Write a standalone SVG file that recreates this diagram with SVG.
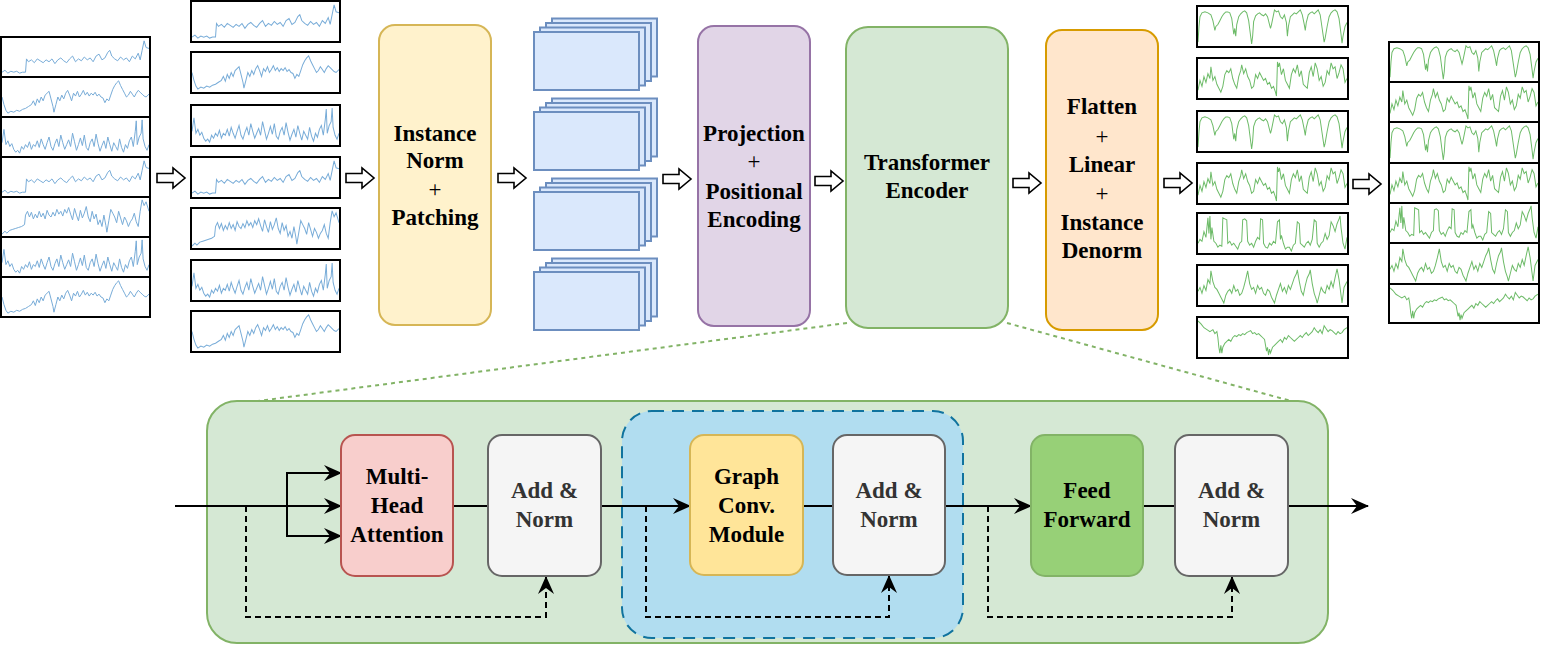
<svg xmlns="http://www.w3.org/2000/svg" xmlns:xlink="http://www.w3.org/1999/xlink" width="1542" height="653" viewBox="0 0 1542 653">
<style>
.ts{fill:#fff;stroke:#000;stroke-width:2}
.bl{fill:none;stroke:#78acd8;stroke-width:1;vector-effect:non-scaling-stroke}
.gl{fill:none;stroke:#6dbb68;stroke-width:1;vector-effect:non-scaling-stroke}
.patch{fill:#dae8fc;stroke:#6c8ebf;stroke-width:2}
.lbl{font-family:"Liberation Serif","Times New Roman",serif;font-weight:bold;font-size:23px;text-anchor:middle;fill:#000}
.plus{font-family:"Liberation Serif","Times New Roman",serif;font-weight:normal;font-size:23px;text-anchor:middle;fill:#000}
.grey{fill:#333}
.harrow{fill:#fff;stroke:#000;stroke-width:1.6;stroke-linejoin:miter}
.main{fill:none;stroke:#000;stroke-width:2}
.res{fill:none;stroke:#000;stroke-width:2;stroke-dasharray:6 4}
.zoom{fill:none;stroke:#82b366;stroke-width:2;stroke-dasharray:4 4}
</style>
<defs>
<marker id="ah" markerUnits="userSpaceOnUse" viewBox="0 0 18 16" markerWidth="18" markerHeight="16" refX="17" refY="8" orient="auto">
<path d="M0,0 L18,8 L0,16 L6,8 Z" fill="#000"/>
</marker>
<path id="ha" class="harrow" d="M0,-4.5 L16,-4.5 L16,-10 L28,0 L16,10 L16,4.5 L0,4.5 Z"/>
<symbol id="A" viewBox="0 0 150 40" preserveAspectRatio="none"><path class="bl" d="M0,36 L3,34 6,37 9,35 12,36 15,35 18,37 21,36 24,36 25,22 27,25 30,23 33,26 36,22 39,24 42,26 45,23 48,25 51,22 54,27 57,23 60,21 63,24 66,26 69,22 72,19 75,25 78,22 81,24 84,20 87,23 90,21 93,25 96,19 99,17 102,23 105,21 108,15 110,13 112,19 115,22 118,24 121,20 124,23 127,21 130,25 133,19 136,22 139,16 141,23 143,13 145,3 147,10 150,11"/></symbol>
<symbol id="B" viewBox="0 0 150 40" preserveAspectRatio="none"><path class="bl" d="M0,20 L2,28 4,34 6,37 9,35 12,36 15,34 18,35 21,33 24,32 27,30 30,28 32,24 34,29 36,22 38,26 40,20 42,24 44,18 46,16 48,14 50,22 52,30 53,36 55,28 57,20 59,24 61,18 63,22 65,16 67,13 69,18 71,24 73,16 75,19 77,14 79,20 81,17 83,13 85,18 87,15 89,19 91,16 93,18 95,15 97,19 99,17 101,20 103,21 105,26 107,22 109,24 111,18 113,12 115,8 117,5 119,3 121,8 123,12 125,16 127,20 129,18 131,14 133,17 135,20 137,16 139,13 141,15 143,17 145,19 147,20 150,17"/></symbol>
<symbol id="C" viewBox="0 0 150 40" preserveAspectRatio="none"><path class="bl" d="M0,26 L2,12 4,28 6,24 8,30 10,27 12,33 14,36 16,34 18,37 20,30 22,33 24,28 26,31 28,25 30,33 32,28 34,30 36,24 38,31 40,22 42,28 44,33 46,26 48,20 50,30 52,34 54,27 56,22 58,30 60,18 62,26 64,33 66,28 68,23 70,30 72,16 74,25 76,34 78,28 80,21 82,29 84,18 86,31 88,34 90,26 92,22 94,30 96,17 98,27 100,35 102,29 104,24 106,32 108,20 110,28 112,35 114,26 116,30 118,34 120,22 122,31 124,36 126,28 128,32 130,24 132,20 134,30 136,14 137,3 138,28 140,20 142,16 143,2 144,22 146,30 148,34 150,28"/></symbol>
<symbol id="D" viewBox="0 0 150 40" preserveAspectRatio="none"><path class="bl" d="M0,38 L3,35 5,37 8,34 11,33 14,32 17,31 20,30 23,28 24,18 26,14 28,20 30,15 32,22 34,17 36,21 38,14 40,20 42,16 44,22 46,13 48,18 50,20 52,15 54,19 56,12 58,17 60,14 62,19 64,12 66,16 68,10 70,17 72,23 74,11 76,18 78,24 80,13 82,21 84,16 86,9 88,20 90,25 92,14 94,22 96,17 98,28 100,23 102,30 104,18 106,29 107,36 109,24 111,12 113,16 115,20 117,26 119,14 121,21 123,28 125,20 127,24 129,30 131,25 133,22 135,16 137,25 139,30 141,14 143,2 145,8 147,4 150,14"/></symbol>
<symbol id="E" viewBox="0 0 150 40" preserveAspectRatio="none"><path class="gl" d="M0,36 L1,20 2,10 4,6 7,5 10,6 13,8 15,14 17,24 18,20 20,18 22,14 24,10 26,7 28,5 30,5 32,6 34,12 36,28 37,22 38,30 39,18 41,10 43,7 45,5 47,4 49,6 51,14 53,30 54,38 55,30 56,15 58,9 60,7 62,6 64,8 66,9 68,7 70,10 72,18 73,22 74,18 76,8 77,3 79,5 81,4 83,10 85,12 87,8 89,16 90,30 91,20 93,10 95,8 97,6 99,7 101,5 103,3 105,8 107,18 108,24 109,16 111,8 113,6 115,5 117,7 119,5 121,3 123,8 125,22 127,36 128,32 130,20 132,10 134,6 136,4 138,3 140,5 142,12 144,28 145,37 146,30 148,20 150,16"/></symbol>
<symbol id="F" viewBox="0 0 150 40" preserveAspectRatio="none"><path class="gl" d="M0,32 L2,22 4,28 6,18 8,24 10,15 12,20 13,8 15,22 17,18 19,26 21,30 23,34 25,28 27,16 29,12 31,14 33,10 35,20 37,26 39,30 41,18 43,12 44,6 46,15 48,10 50,18 52,22 54,30 56,28 58,16 60,20 62,14 64,18 66,22 68,20 70,26 72,24 74,30 76,28 78,34 79,38 80,3 81,8 82,4 84,16 86,10 88,22 90,26 92,30 94,16 96,10 98,14 100,6 102,18 104,12 106,26 108,28 110,30 112,14 114,8 116,18 118,4 120,10 122,22 124,18 126,28 128,24 130,12 132,16 134,4 136,10 138,8 140,20 142,14 144,6 146,10 148,24 150,20"/></symbol>
<symbol id="G" viewBox="0 0 150 40" preserveAspectRatio="none"><path class="gl" d="M0,30 L2,26 4,28 6,18 8,24 10,4 11,20 12,2 13,26 14,14 16,28 18,30 20,34 22,32 24,33 25,4 27,5 29,6 30,30 32,28 34,32 36,30 38,33 40,36 42,30 44,28 45,6 47,5 49,7 50,28 52,32 54,30 56,34 58,28 60,24 62,26 63,5 65,6 66,30 68,34 70,35 72,30 74,32 76,28 78,30 80,8 82,6 83,26 84,22 86,30 88,36 90,34 92,34 94,38 96,32 98,30 100,8 102,10 103,30 105,32 107,34 109,30 111,28 113,32 115,26 117,6 119,8 120,30 122,34 124,30 126,28 128,20 130,26 132,22 134,8 136,12 138,18 140,10 142,5 143,2 144,14 146,30 148,36 150,24"/></symbol>
<symbol id="H" viewBox="0 0 150 40" preserveAspectRatio="none"><path class="gl" d="M0,26 L2,22 4,28 6,20 8,25 10,14 12,18 13,5 15,16 17,22 19,24 21,28 23,32 25,36 26,38 28,30 30,26 32,24 34,28 36,20 38,26 40,24 42,30 44,28 46,22 48,14 50,5 52,18 54,24 56,22 58,28 60,20 62,24 64,22 66,28 68,30 70,24 72,26 74,32 76,36 77,38 79,30 81,24 83,18 85,26 87,22 89,28 91,20 93,24 95,18 97,12 99,8 100,4 102,16 104,26 106,30 108,20 110,12 112,8 113,4 115,18 117,28 119,34 120,38 122,30 124,22 126,26 128,28 130,20 132,24 134,16 136,22 138,12 140,3 142,14 144,30 145,38 147,22 150,16"/></symbol>
<symbol id="I" viewBox="0 0 150 40" preserveAspectRatio="none"><path class="gl" d="M0,3 L3,6 6,10 9,12 12,14 15,12 17,16 19,14 20,20 21,30 22,36 23,28 24,36 25,30 27,26 29,24 31,22 33,24 35,20 37,18 39,19 41,17 43,18 45,16 47,17 49,15 51,14 53,13 55,16 57,15 59,17 61,16 63,18 65,20 67,22 68,28 69,34 70,30 71,38 72,32 73,36 75,30 77,28 79,26 81,24 83,22 85,25 87,20 89,22 91,18 93,20 95,22 97,24 99,22 101,20 103,18 105,20 107,17 109,15 111,18 113,16 115,14 117,10 119,13 121,15 123,12 125,16 127,8 129,11 131,14 133,12 135,13 137,15 139,17 141,14 143,16 145,15 147,12 150,10"/></symbol>
<g id="pstack">
<rect class="patch" x="18" y="-13.5" width="105" height="58"/>
<rect class="patch" x="12" y="-9" width="105" height="58"/>
<rect class="patch" x="6" y="-4.5" width="105" height="58"/>
<rect class="patch" x="0" y="0" width="105" height="58"/>
</g>
</defs>

<g id="input-series">
<rect class="ts" x="1" y="37" width="149" height="40"/><use href="#A" x="2" y="38" width="147" height="38"/>
<rect class="ts" x="1" y="77" width="149" height="40"/><use href="#B" x="2" y="78" width="147" height="38"/>
<rect class="ts" x="1" y="117" width="149" height="40"/><use href="#C" x="2" y="118" width="147" height="38"/>
<rect class="ts" x="1" y="157" width="149" height="40"/><use href="#A" x="2" y="158" width="147" height="38"/>
<rect class="ts" x="1" y="197" width="149" height="40"/><use href="#D" x="2" y="198" width="147" height="38"/>
<rect class="ts" x="1" y="237" width="149" height="40"/><use href="#C" x="2" y="238" width="147" height="38"/>
<rect class="ts" x="1" y="277" width="149" height="40"/><use href="#B" x="2" y="278" width="147" height="38"/>
</g>

<g id="channel-series">
<rect class="ts" x="191" y="1" width="149" height="41"/><use href="#A" x="192" y="2" width="147" height="39"/>
<rect class="ts" x="191" y="52" width="149" height="41"/><use href="#B" x="192" y="53" width="147" height="39"/>
<rect class="ts" x="191" y="105" width="149" height="41"/><use href="#C" x="192" y="106" width="147" height="39"/>
<rect class="ts" x="191" y="157" width="149" height="41"/><use href="#A" x="192" y="158" width="147" height="39"/>
<rect class="ts" x="191" y="208" width="149" height="41"/><use href="#D" x="192" y="209" width="147" height="39"/>
<rect class="ts" x="191" y="260" width="149" height="41"/><use href="#C" x="192" y="261" width="147" height="39"/>
<rect class="ts" x="191" y="311" width="149" height="41"/><use href="#B" x="192" y="312" width="147" height="39"/>
</g>

<g id="instance-norm">
<rect x="379" y="25" width="112" height="300" rx="16" fill="#fff2cc" stroke="#d6b656" stroke-width="2"/>
<text class="lbl" x="435" y="141">Instance</text>
<text class="lbl" x="435" y="168">Norm</text>
<text class="plus" x="435" y="197">+</text>
<text class="lbl" x="435" y="225">Patching</text>
</g>

<g id="patches">
<use href="#pstack" x="534" y="32"/>
<use href="#pstack" x="534" y="112"/>
<use href="#pstack" x="534" y="192"/>
<use href="#pstack" x="534" y="272"/>
</g>

<g id="projection">
<rect x="698" y="26" width="112" height="300" rx="16" fill="#e1d5e7" stroke="#9673a6" stroke-width="2"/>
<text class="lbl" x="754" y="141">Projection</text>
<text class="plus" x="754" y="169">+</text>
<text class="lbl" x="754" y="199">Positional</text>
<text class="lbl" x="754" y="227">Encoding</text>
</g>

<g id="transformer-encoder">
<rect x="846" y="27" width="162" height="301" rx="22" fill="#d5e8d4" stroke="#82b366" stroke-width="2"/>
<text class="lbl" x="927" y="170">Transformer</text>
<text class="lbl" x="927" y="198">Encoder</text>
</g>

<g id="flatten">
<rect x="1046" y="30" width="112" height="300" rx="16" fill="#ffe6cc" stroke="#d79b00" stroke-width="2"/>
<text class="lbl" x="1102" y="114">Flatten</text>
<text class="plus" x="1102" y="144">+</text>
<text class="lbl" x="1102" y="172">Linear</text>
<text class="plus" x="1102" y="201">+</text>
<text class="lbl" x="1102" y="230">Instance</text>
<text class="lbl" x="1102" y="258">Denorm</text>
</g>

<g id="output-channels">
<rect class="ts" x="1197" y="6" width="151" height="41"/><use href="#E" x="1198" y="7" width="149" height="39"/>
<rect class="ts" x="1197" y="58" width="151" height="41"/><use href="#F" x="1198" y="59" width="149" height="39"/>
<rect class="ts" x="1197" y="111" width="151" height="41"/><use href="#E" x="1198" y="112" width="149" height="39"/>
<rect class="ts" x="1197" y="163" width="151" height="41"/><use href="#F" x="1198" y="164" width="149" height="39"/>
<rect class="ts" x="1197" y="213" width="151" height="41"/><use href="#G" x="1198" y="214" width="149" height="39"/>
<rect class="ts" x="1197" y="265" width="151" height="41"/><use href="#H" x="1198" y="266" width="149" height="39"/>
<rect class="ts" x="1197" y="317" width="151" height="41"/><use href="#I" x="1198" y="318" width="149" height="39"/>
</g>

<g id="output-series">
<rect class="ts" x="1389" y="42" width="150" height="40"/><use href="#E" x="1390" y="43" width="148" height="38"/>
<rect class="ts" x="1389" y="82" width="150" height="40"/><use href="#F" x="1390" y="83" width="148" height="38"/>
<rect class="ts" x="1389" y="122" width="150" height="41"/><use href="#E" x="1390" y="123" width="148" height="39"/>
<rect class="ts" x="1389" y="163" width="150" height="40"/><use href="#F" x="1390" y="164" width="148" height="38"/>
<rect class="ts" x="1389" y="203" width="150" height="40"/><use href="#G" x="1390" y="204" width="148" height="38"/>
<rect class="ts" x="1389" y="243" width="150" height="41"/><use href="#H" x="1390" y="244" width="148" height="39"/>
<rect class="ts" x="1389" y="284" width="150" height="39"/><use href="#I" x="1390" y="285" width="148" height="37"/>
</g>

<g id="encoder-panel">
<rect x="207" y="401" width="1121" height="242" rx="30" fill="#d5e8d4" stroke="#82b366" stroke-width="2"/>
</g>
<g id="graph-block">
<rect x="622" y="411" width="341" height="227" rx="30" fill="#b1ddf0" stroke="#10739e" stroke-width="2" stroke-dasharray="12 8"/>
</g>

<g id="connectors">
<use href="#ha" x="157" y="178"/>
<use href="#ha" x="346" y="178"/>
<use href="#ha" x="498" y="178"/>
<use href="#ha" x="663" y="179"/>
<use href="#ha" x="815" y="181"/>
<use href="#ha" x="1013" y="183"/>
<use href="#ha" x="1164" y="183"/>
<use href="#ha" x="1353" y="184"/>
<line class="zoom" x1="847" y1="323" x2="258" y2="401"/>
<line class="zoom" x1="1007" y1="323" x2="1291" y2="401"/>
<line class="main" x1="175" y1="506" x2="341" y2="506" marker-end="url(#ah)"/>
<path class="main" d="M287,506 V473 H341" marker-end="url(#ah)"/>
<path class="main" d="M287,506 V536 H341" marker-end="url(#ah)"/>
<line class="main" x1="453" y1="506" x2="488" y2="506"/>
<line class="main" x1="601" y1="506" x2="690" y2="506" marker-end="url(#ah)"/>
<line class="main" x1="803" y1="506" x2="833" y2="506"/>
<line class="main" x1="945" y1="506" x2="1031" y2="506" marker-end="url(#ah)"/>
<line class="main" x1="1143" y1="506" x2="1175" y2="506"/>
<line class="main" x1="1288" y1="506" x2="1368" y2="506" marker-end="url(#ah)"/>
<path class="res" d="M246,506 V617 H546 V577" marker-end="url(#ah)"/>
<path class="res" d="M646,506 V617 H889 V576" marker-end="url(#ah)"/>
<path class="res" d="M988,506 V617 H1232 V577" marker-end="url(#ah)"/>
</g>

<g id="multi-head-attention">
<rect x="341" y="435" width="112" height="141" rx="14" fill="#f8cecc" stroke="#b85450" stroke-width="2"/>
<text class="lbl" x="397" y="484">Multi-</text>
<text class="lbl" x="397" y="513">Head</text>
<text class="lbl" x="397" y="542">Attention</text>
</g>
<g id="add-norm-1">
<rect x="488" y="435" width="113" height="141" rx="14" fill="#f5f5f5" stroke="#666" stroke-width="2"/>
<text class="lbl grey" x="544.5" y="498">Add &amp;</text>
<text class="lbl grey" x="544.5" y="527">Norm</text>
</g>
<g id="graph-conv">
<rect x="690" y="435" width="113" height="140" rx="14" fill="#ffe599" stroke="#d6b656" stroke-width="2"/>
<text class="lbl" x="746.5" y="484">Graph</text>
<text class="lbl" x="746.5" y="513">Conv.</text>
<text class="lbl" x="746.5" y="542">Module</text>
</g>
<g id="add-norm-2">
<rect x="833" y="435" width="112" height="140" rx="14" fill="#f5f5f5" stroke="#666" stroke-width="2"/>
<text class="lbl grey" x="889" y="498">Add &amp;</text>
<text class="lbl grey" x="889" y="527">Norm</text>
</g>
<g id="feed-forward">
<rect x="1031" y="435" width="112" height="141" rx="14" fill="#97d077" stroke="#82b366" stroke-width="2"/>
<text class="lbl" x="1087" y="498">Feed</text>
<text class="lbl" x="1087" y="527">Forward</text>
</g>
<g id="add-norm-3">
<rect x="1175" y="435" width="113" height="141" rx="14" fill="#f5f5f5" stroke="#666" stroke-width="2"/>
<text class="lbl grey" x="1231.5" y="498">Add &amp;</text>
<text class="lbl grey" x="1231.5" y="527">Norm</text>
</g>
</svg>
